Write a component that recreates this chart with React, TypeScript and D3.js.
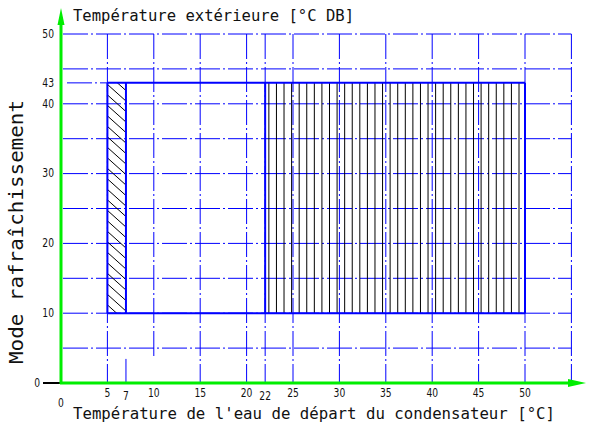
import React from "react";
import * as d3 from "d3";

const W = 589;
const H = 427;

// Axis domains
const xDomain = [0, 50];
const yDomain = [0, 50];

// Tick labels
const xTicks = [5, 7, 10, 15, 20, 22, 25, 30, 35, 40, 45, 50];
const xTicksLowered = [7, 22];
const yTicks = [10, 20, 30, 40, 43, 50];

// Grid lines
const hGrid = [5, 10, 15, 20, 25, 30, 35, 40, 45, 50];
const vGrid = [5, 15, 20, 22, 25, 30, 35, 40, 45, 50, 55];

// Operating zones (x range in °C water, y range in °C outdoor)
const zoneY = [10, 43];
const hatchedZone = [5, 7];
const linedZone = [22, 50];

const title = "Température extérieure [°C DB]";
const xTitle = "Température de l'eau de départ du condensateur [°C]";
const yTitle = "Mode rafraîchissement";

export default function App() {
  const x = d3.scaleLinear().domain(xDomain).range([61, 525]);
  const y = d3.scaleLinear().domain(yDomain).range([383, 34]);

  const blue = "#0000ff";
  const green = "#00ee00";
  const dash = "25,3,2,3";

  const yTop = y(zoneY[1]);
  const yBot = y(zoneY[0]);

  // vertical hatch lines inside linedZone
  const lx0 = x(linedZone[0]);
  const lx1 = x(linedZone[1]);
  const vSpacing = 7.58;
  const vLines = d3.range(lx0 + 3.7, lx1 - 3, vSpacing);

  // diagonal hatch inside hatchedZone
  const hx0 = x(hatchedZone[0]);
  const hx1 = x(hatchedZone[1]);
  const slope = 0.9;
  const dSpacing = 10.5;
  const dStarts = d3.range(yTop - 30, yBot + 5, dSpacing);

  const tickFont = "'Liberation Sans Narrow', 'DejaVu Sans Condensed', sans-serif";
  const monoFont = "'DejaVu Sans Mono', monospace";

  return (
    <svg
      width={W}
      height={H}
      style={{ position: "absolute", left: 0, top: 0, background: "#fff" }}
    >
      <rect width={W} height={H} fill="#fff" />
      <defs>
        <clipPath id="hatchClip">
          <rect x={hx0} y={yTop} width={hx1 - hx0} height={yBot - yTop} />
        </clipPath>
      </defs>

      {/* horizontal grid */}
      {hGrid.map((v) => (
        <line
          key={"h" + v}
          x1={x(0) + 2}
          x2={x(55)}
          y1={y(v)}
          y2={y(v)}
          stroke={blue}
          strokeWidth={1}
          strokeDasharray={dash}
        />
      ))}
      <line
        x1={x(0) + 6}
        x2={x(hatchedZone[0])}
        y1={yTop}
        y2={yTop}
        stroke={blue}
        strokeWidth={1}
        strokeDasharray={dash}
      />

      {/* vertical grid */}
      {vGrid.map((v) => (
        <line
          key={"v" + v}
          x1={x(v)}
          x2={x(v)}
          y1={y(50)}
          y2={y(0)}
          stroke={blue}
          strokeWidth={1}
          strokeDasharray={dash}
        />
      ))}
      <line
        x1={x(10)}
        x2={x(10)}
        y1={y(50)}
        y2={y(3.45)}
        stroke={blue}
        strokeWidth={1}
        strokeDasharray={dash}
      />
      <line
        x1={x(7)}
        x2={x(7)}
        y1={y(3.45)}
        y2={y(0)}
        stroke={blue}
        strokeWidth={1}
        strokeDasharray={dash}
      />

      {/* vertical line hatching */}
      {vLines.map((px, i) => (
        <line
          key={"vl" + i}
          x1={px}
          x2={px}
          y1={yTop}
          y2={yBot}
          stroke="#000"
          strokeWidth={1}
        />
      ))}

      {/* diagonal hatching */}
      <g clipPath="url(#hatchClip)">
        {dStarts.map((sy, i) => (
          <line
            key={"dl" + i}
            x1={hx0}
            y1={sy}
            x2={hx1}
            y2={sy + (hx1 - hx0) * slope}
            stroke="#000"
            strokeWidth={1}
          />
        ))}
      </g>

      {/* zone outlines */}
      <g stroke={blue} strokeWidth={2} fill="none">
        <line x1={x(hatchedZone[0])} x2={x(linedZone[1])} y1={yTop} y2={yTop} />
        <line x1={x(hatchedZone[0])} x2={x(linedZone[1])} y1={yBot} y2={yBot} />
        {[hatchedZone[0], hatchedZone[1], linedZone[0], linedZone[1]].map((v) => (
          <line key={"b" + v} x1={x(v)} x2={x(v)} y1={yTop} y2={yBot} />
        ))}
      </g>

      {/* axes */}
      <line x1={43} x2={x(0)} y1={y(0)} y2={y(0)} stroke="#000" strokeWidth={2} />
      <line x1={x(0)} x2={x(0)} y1={y(0) + 1} y2={22} stroke={green} strokeWidth={3} />
      <polygon
        points={`${x(0)},8 ${x(0) - 3.5},25 ${x(0) + 3.5},25`}
        fill={green}
      />
      <line x1={x(0) - 1} x2={570} y1={y(0)} y2={y(0)} stroke={green} strokeWidth={3} />
      <polygon
        points={`586,${y(0)} 568,${y(0) - 4} 568,${y(0) + 4}`}
        fill={green}
      />

      {/* y tick labels */}
      {yTicks.map((v) => (
        <text
          key={"yt" + v}
          transform={`translate(54,${y(v)}) scale(0.85,1)`}
          textAnchor="end"
          dominantBaseline="central"
          fontFamily={tickFont}
          fontSize={12}
          fill="#111"
        >
          {v}
        </text>
      ))}
      <text
        transform={`translate(40,${y(0)}) scale(0.85,1)`}
        textAnchor="end"
        dominantBaseline="central"
        fontFamily={tickFont}
        fontSize={12}
        fill="#111"
      >
        0
      </text>

      {/* x tick labels */}
      {xTicks.map((v) => (
        <text
          key={"xt" + v}
          transform={`translate(${x(v)},${
            y(0) + (xTicksLowered.includes(v) ? 13.5 : 10)
          }) scale(0.85,1)`}
          textAnchor="middle"
          dominantBaseline="central"
          fontFamily={tickFont}
          fontSize={12}
          fill="#111"
        >
          {v}
        </text>
      ))}
      <text
        transform={`translate(${x(0)},${y(0) + 20.5}) scale(0.85,1)`}
        textAnchor="middle"
        dominantBaseline="central"
        fontFamily={tickFont}
        fontSize={12}
        fill="#111"
      >
        0
      </text>

      {/* titles */}
      <text
        x={73}
        y={21}
        fontFamily={monoFont}
        fontSize={16}
        fill="#111"
        textLength={281}
        lengthAdjust="spacingAndGlyphs"
      >
        {title}
      </text>
      <text
        x={73}
        y={419}
        fontFamily={monoFont}
        fontSize={16}
        fill="#111"
        textLength={482}
        lengthAdjust="spacingAndGlyphs"
      >
        {xTitle}
      </text>
      <text
        transform="translate(23,364) rotate(-90)"
        fontFamily={monoFont}
        fontSize={19}
        fill="#111"
        textLength={264}
        lengthAdjust="spacingAndGlyphs"
      >
        {yTitle}
      </text>
    </svg>
  );
}
